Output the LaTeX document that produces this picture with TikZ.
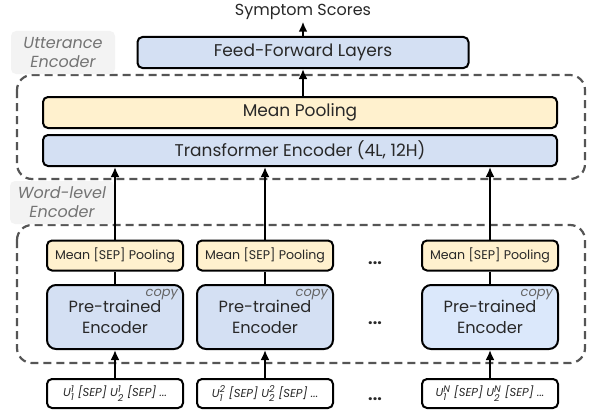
\documentclass[tikz,border=0pt]{standalone}
\usepackage{fontspec}
\setmainfont{Poppins}
\usetikzlibrary{arrows.meta, positioning}
\definecolor{boxblue}{RGB}{212,224,243}
\definecolor{boxbluelt}{RGB}{219,232,251}
\definecolor{boxyellow}{RGB}{255,241,206}
\definecolor{txtgray}{RGB}{40,40,40}
\definecolor{dashgray}{RGB}{85,85,85}
\definecolor{labgray}{RGB}{243,243,243}
\tikzstyle{block}=[draw,rectangle,line width=2pt,rounded corners=5pt,inner sep=0pt,text=txtgray]
\tikzstyle{wide}=[block,minimum width=514pt,minimum height=31pt,font=\fontsize{17}{20}\selectfont]
\tikzstyle{pool}=[block,fill=boxyellow,minimum width=136pt,minimum height=30pt,font=\fontsize{12.6}{15}\selectfont]
\tikzstyle{enc}=[block,fill=boxblue,rounded corners=9pt,minimum width=136pt,minimum height=64pt,align=center,font=\fontsize{16.2}{21}\selectfont]
\tikzstyle{inp}=[block,fill=white,minimum width=136pt,minimum height=29pt,font=\fontsize{11.5}{13}\selectfont\itshape]
\tikzstyle{groupbox}=[draw=dashgray,line width=2.2pt,dash pattern=on 8pt off 5pt,rounded corners=15pt]
\tikzstyle{tag}=[fill=labgray,rounded corners=5pt,text=black!55,align=center,inner sep=0pt,minimum width=104pt,minimum height=43pt,font=\fontsize{16}{19}\selectfont\itshape]
\tikzstyle{ellip}=[font=\fontsize{16}{16}\selectfont\bfseries,text=txtgray,inner sep=0pt]
\tikzstyle{copytag}=[font=\fontsize{13}{14}\selectfont\itshape,text=black!60,inner sep=0pt,anchor=north east,xshift=-5pt,yshift=-4pt]
\newcommand{\uu}[2]{U$_{\mbox{\fontsize{9.5}{10}\selectfont #1}}^{\mbox{\fontsize{9.5}{10}\selectfont #2}}$}

\begin{document}
\begin{tikzpicture}[x=1pt,y=-1pt,>={Latex[length=10pt,width=9pt]},line width=2pt,node distance=150pt]
    \useasboundingbox (0,0) rectangle (591,412);
    \draw[groupbox] (17,75) rectangle (585,179);
    \draw[groupbox] (17,225) rectangle (585,363);
    \node[tag] (uttlab) at (63,52.5) {Utterance\\Encoder};
    \node[tag] (wordlab) at (62,202.5) {Word-level\\Encoder};

    \node[block,fill=boxblue,minimum width=331pt,minimum height=31pt,font=\fontsize{17}{20}\selectfont] (ff) at (303,52.5) {Feed-Forward Layers};
    \node[text=txtgray,font=\fontsize{16}{19}\selectfont,inner sep=1pt] (out) at (303,12) {Symptom Scores};
    \node[wide,fill=boxyellow] (mp) at (300,112.5) {Mean Pooling};
    \node[wide,fill=boxblue] (te) at (300,150.5) {Transformer Encoder (4L, 12H)};

    \node[pool] (sep1) at (115,255.5) {Mean [SEP] Pooling};
    \node[pool,right of=sep1] (sep2) {Mean [SEP] Pooling};
    \node[pool] (sepn) at (490,255.5) {Mean [SEP] Pooling};
    \node[enc,below of=sep1,node distance=61.5pt] (pt1) {Pre-trained\\Encoder};
    \node[enc,below of=sep2,node distance=61.5pt] (pt2) {Pre-trained\\Encoder};
    \node[enc,fill=boxbluelt,below of=sepn,node distance=61.5pt] (ptn) {Pre-trained\\Encoder};
    \node[inp,below of=pt1,node distance=76.5pt] (in1) {\uu{1}{1} [SEP] \uu{2}{1} [SEP] ...};
    \node[inp,below of=pt2,node distance=76.5pt] (in2) {\uu{1}{2} [SEP] \uu{2}{2} [SEP] ...};
    \node[inp,below of=ptn,node distance=76.5pt] (inn) {\uu{1}{N} [SEP] \uu{2}{N} [SEP] ...};

    \node[copytag] (cp1) at (pt1.north east) {copy};
    \node[copytag] (cp2) at (pt2.north east) {copy};
    \node[copytag] (cpn) at (ptn.north east) {copy};
    \node[ellip] (d1) at (375,263) {...};
    \node[ellip] (d2) at (375,323) {...};
    \node[ellip] (d3) at (375,399) {...};

    \draw[->] (ff) -- (out);
    \draw[->] (ff |- mp.north) -- (ff.south);
    \draw[->] (sep1) -- (sep1 |- te.south);
    \draw[->] (sep2) -- (sep2 |- te.south);
    \draw[->] (sepn) -- (sepn |- te.south);
    \draw (pt1) -- (sep1);
    \draw (pt2) -- (sep2);
    \draw (ptn) -- (sepn);
    \draw[->] (in1) -- (pt1);
    \draw[->] (in2) -- (pt2);
    \draw[->] (inn) -- (ptn);
\end{tikzpicture}
\end{document}
